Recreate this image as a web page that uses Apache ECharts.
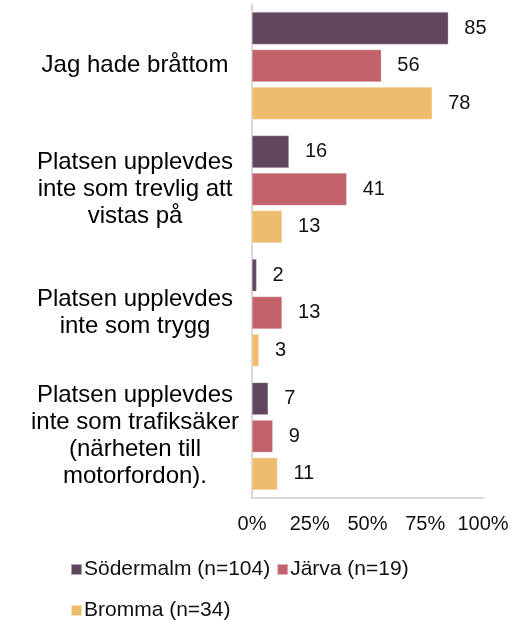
<!DOCTYPE html>
<html lang="sv">
<head>
<meta charset="utf-8">
<title>Orsaker</title>
<script src="https://cdn.jsdelivr.net/npm/echarts@6/dist/echarts.min.js"></script>
<style>
  html, body { margin: 0; padding: 0; background: #fff; }
</style>
</head>
<body>
<div id="main" style="width:524px;height:620px;"></div>
<script type="text/javascript">
    var categories = [
        'Jag hade bråttom',
        'Platsen upplevdes\ninte som trevlig att\nvistas på',
        'Platsen upplevdes\ninte som trygg',
        'Platsen upplevdes\ninte som trafiksäker\n(närheten till\nmotorfordon).'
    ];
    var seriesNames = ['Södermalm (n=104)', 'Järva (n=19)', 'Bromma (n=34)'];
    var sodermalm = [85, 16, 2, 7];
    var jarva = [56, 41, 13, 9];
    var bromma = [78, 13, 3, 11];
    var colors = ['#61465f', '#c2636b', '#edbc6f'];

    var font = 'Arial, "Liberation Sans", sans-serif';
    var myChart = echarts.init(document.getElementById('main'));

    function makeSeries(i, data) {
        return {
            name: seriesNames[i],
            type: 'bar',
            data: data,
            barGap: '16%',
            barCategoryGap: '13%',
            itemStyle: { color: colors[i], borderColor: 'rgba(255,255,255,0.5)', borderWidth: 0.5 },
            label: {
                show: true,
                position: 'right',
                distance: 16,
                color: '#111',
                fontSize: 20,
                fontFamily: font
            }
        };
    }

    var option = {
        animation: false,
        textStyle: { fontFamily: font },
        legend: {
            left: 65,
            top: 547,
            width: 440,
            itemWidth: 11,
            itemHeight: 11,
            itemGap: 6,
            icon: 'rect',
            textStyle: { fontSize: 21, lineHeight: 35, color: '#111', fontFamily: font, padding: [0, 0, 0, -3] },
            data: seriesNames
        },
        grid: { left: 252, right: 41, top: 4, bottom: 122 },
        xAxis: {
            type: 'value',
            min: 0,
            max: 100,
            interval: 25,
            axisLine: { show: true, lineStyle: { color: '#d9d9d9', width: 2 } },
            axisTick: { show: false },
            splitLine: { show: false },
            axisLabel: {
                formatter: '{value}%',
                fontSize: 20,
                color: '#111',
                margin: 16,
                fontFamily: font
            }
        },
        yAxis: {
            type: 'category',
            inverse: true,
            data: categories,
            axisLine: { show: true, lineStyle: { color: '#d9d9d9', width: 2 } },
            axisTick: { show: false },
            axisLabel: {
                align: 'center',
                margin: 117,
                fontSize: 24,
                lineHeight: 27,
                padding: [8, 0, 0, 0],
                color: '#000',
                fontFamily: font
            }
        },
        series: [
            makeSeries(0, sodermalm),
            makeSeries(1, jarva),
            makeSeries(2, bromma)
        ]
    };

    myChart.setOption(option);
</script>
</body>
</html>
